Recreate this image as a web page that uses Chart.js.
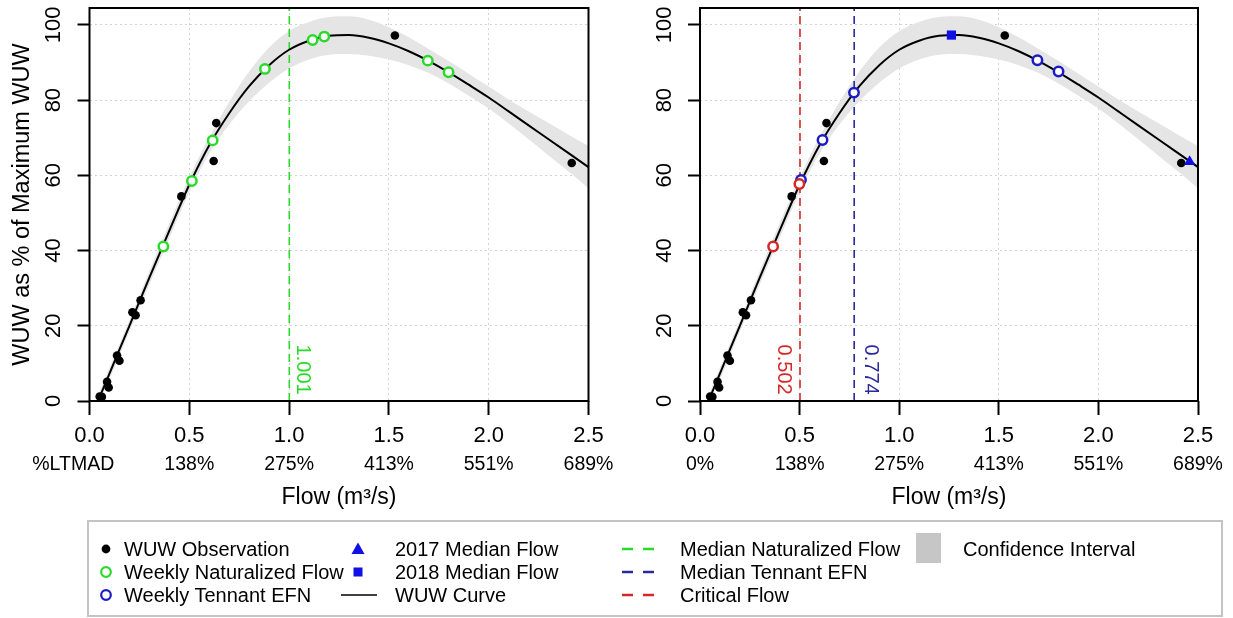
<!DOCTYPE html>
<html>
<head>
<meta charset="utf-8">
<script src="https://cdn.jsdelivr.net/npm/chart.js@4.4.1/dist/chart.umd.min.js"></script>
<style>
  body { margin: 0; background: #fff; width: 1233px; height: 618px; overflow: hidden; position: relative; }
  #leftBox { position: absolute; left: 0; top: 0; width: 615px; height: 515px; }
  #rightBox { position: absolute; left: 615px; top: 0; width: 618px; height: 515px; }
  #legend { position: absolute; left: 0; top: 0; }
</style>
</head>
<body>
<div id="leftBox"><canvas id="leftChart"></canvas></div>
<div id="rightBox"><canvas id="rightChart"></canvas></div>
<svg id="legend" width="1233" height="618"></svg>
<script>
// fitted WUW curve and its confidence band
const curveFlow = [0.045, 0.1, 0.2, 0.3, 0.4, 0.5, 0.6, 0.7, 0.8, 0.9, 1.0, 1.1, 1.2, 1.3, 1.4, 1.5, 1.6, 1.7, 1.8, 1.9, 2.0, 2.1, 2.2, 2.3, 2.4, 2.5];
const curveWuw  = [0.3, 7.3, 20.0, 32.8, 45.3, 57.5, 68.0, 76.5, 83.7, 89.3, 93.4, 95.8, 97.1, 97.3, 96.6, 95.1, 93.0, 90.4, 87.4, 84.1, 80.7, 77.0, 73.3, 69.6, 65.9, 62.2];
const ciUpper   = [1.8, 8.8, 21.5, 34.6, 47.3, 59.5, 70.2, 79.5, 87.6, 94.0, 98.4, 100.8, 102.1, 102.3, 101.4, 99.4, 96.7, 93.6, 90.4, 87.0, 83.6, 80.2, 77.0, 73.9, 70.8, 67.8];
const ciLower   = [0.0, 5.8, 18.5, 31.0, 43.3, 55.5, 65.8, 73.5, 79.7, 84.6, 88.4, 90.8, 92.1, 92.3, 91.8, 90.8, 89.3, 87.2, 84.4, 81.2, 77.8, 73.8, 69.6, 65.3, 61.0, 56.6];

// WUW observations (black dots, same on both panels)
const obsFlow = [0.051, 0.062, 0.088, 0.096, 0.138, 0.150, 0.215, 0.231, 0.256, 0.460, 0.622, 0.635, 1.530, 2.416];
const obsWuw  = [1.2, 1.1, 5.1, 3.6, 12.1, 10.7, 23.6, 22.8, 26.8, 54.4, 63.8, 73.9, 97.2, 63.3];

// weekly naturalized flow (green circles, left panel)
const natFlow = [0.370, 0.513, 0.617, 0.879, 1.118, 1.176, 1.695, 1.799];
const natWuw  = [41.1, 58.5, 69.3, 88.3, 96.0, 96.9, 90.5, 87.4];

// weekly Tennant EFN (blue circles) and critical flow weeks (red circles), right panel
const efnFlow  = [0.507, 0.615, 0.773, 1.694, 1.800];
const efnWuw   = [58.8, 69.4, 82.0, 90.6, 87.6];
const critFlow = [0.367, 0.499];
const critWuw  = [41.1, 57.7];

// yearly medians (right panel)
const flow2017 = [2.458];
const wuw2017  = [63.6];
const flow2018 = [1.262];
const wuw2018  = [97.3];

// reference flows
const medianNaturalizedFlow = 1.001;
const medianTennantEfn = 0.774;
const criticalFlow = 0.502;

// secondary axis labels (% of long-term mean annual discharge)
const leftPctLabels  = ['%LTMAD', '138%', '275%', '413%', '551%', '689%'];
const rightPctLabels = ['0%', '138%', '275%', '413%', '551%', '689%'];

const GREEN = '#2ada2a';
const BLUE = '#1c1cc4';
const NAVY = '#2a2a9c';
const RED = '#d42828';
const SOLID_BLUE = '#1010e6';
const FONT = '"Liberation Sans", Arial, Helvetica, sans-serif';

Chart.defaults.font.family = FONT;
Chart.defaults.color = '#000';

const pts = (xs, ys) => xs.map((x, i) => ({ x: x, y: ys[i] }));

const plotBox = {
  id: 'plotBox',
  afterDatasetsDraw(chart) {
    const { ctx, chartArea: a } = chart;
    ctx.save();
    ctx.strokeStyle = '#000';
    ctx.lineWidth = 2;
    ctx.strokeRect(a.left, a.top, a.right - a.left, a.bottom - a.top);
    ctx.restore();
  }
};

// dashed reference lines, drawn just after the confidence band
const refLines = {
  id: 'refLines',
  afterDatasetDraw(chart, args, opts) {
    if (chart.data.datasets[args.index].label !== 'Confidence Interval') return;
    const { ctx, chartArea: a, scales } = chart;
    (opts.lines || []).forEach(l => {
      const x = scales.x.getPixelForValue(l.value);
      ctx.save();
      ctx.strokeStyle = l.color;
      ctx.lineWidth = 1.6;
      ctx.setLineDash([8, 5]);
      ctx.beginPath();
      ctx.moveTo(x, a.bottom);
      ctx.lineTo(x, a.top);
      ctx.stroke();
      ctx.setLineDash([]);
      ctx.fillStyle = l.color;
      ctx.font = '20px ' + FONT;
      ctx.translate(x + l.dx, scales.y.getPixelForValue(opts.labelAt));
      ctx.rotate(Math.PI / 2);
      ctx.textAlign = 'left';
      ctx.textBaseline = 'middle';
      ctx.fillText(l.value.toFixed(3), 0, 0);
      ctx.restore();
    });
  }
};

function bandSets() {
  return [
    { type: 'line', label: 'Confidence Interval', data: pts(curveFlow, ciUpper), borderWidth: 0, borderColor: 'rgba(0,0,0,0)',
      pointRadius: 0, fill: '+1', backgroundColor: '#e5e5e5', cubicInterpolationMode: 'monotone', order: 20 },
    { type: 'line', label: 'CI lower', data: pts(curveFlow, ciLower), borderWidth: 0, borderColor: 'rgba(0,0,0,0)',
      pointRadius: 0, fill: false, cubicInterpolationMode: 'monotone', order: 21 },
    { type: 'line', label: 'WUW Curve', data: pts(curveFlow, curveWuw), borderColor: '#000', borderWidth: 2,
      pointRadius: 0, fill: false, cubicInterpolationMode: 'monotone', order: 10 }
  ];
}

function dotSet(label, xs, ys, style) {
  return Object.assign({ label: label, data: pts(xs, ys), pointStyle: 'circle', borderWidth: 0 }, style);
}

function openCircle(color, order) {
  return { pointRadius: 4.7, backgroundColor: '#fff', borderColor: color, borderWidth: 2.5, order: order };
}

function yAxis(width, withTitle) {
  return {
    min: 0, max: 104.5,
    ticks: { stepSize: 20, includeBounds: false, autoSkip: false, minRotation: 90, maxRotation: 90,
      crossAlign: 'center', padding: 5, font: { size: 22 }, color: '#000' },
    grid: { color: '#d3d3d3', lineWidth: 1, tickColor: '#000', tickLength: 12, tickWidth: 2 },
    border: { display: false, dash: [2, 3] },
    title: { display: withTitle, text: 'WUW as % of Maximum WUW', font: { size: 23.5 }, color: '#000', padding: { top: 8, bottom: 0 } },
    afterFit(s) { s.width = width; s.paddingTop = 0; s.paddingBottom = 0; }
  };
}

// firstShift: trailing blanks that push the first % label left of its tick, as in the original
function xAxes(pctLabels, firstShift) {
  return {
    x: {
      type: 'linear', position: 'bottom', min: 0, max: 2.5, weight: 0,
      ticks: { stepSize: 0.5, autoSkip: false, maxRotation: 0, padding: 8, font: { size: 22 }, color: '#000',
        callback: v => v.toFixed(1) },
      grid: { color: '#d3d3d3', lineWidth: 1, tickColor: '#000', tickLength: 14, tickWidth: 2 },
      border: { display: false, dash: [2, 3] },
      afterFit(s) { s.height = 48; s.paddingLeft = 0; s.paddingRight = 0; }
    },
    x2: {
      type: 'linear', position: 'bottom', min: 0, max: 2.5, weight: 1,
      ticks: { stepSize: 0.5, autoSkip: false, maxRotation: 0, padding: 4, font: { size: 19.5 }, color: '#000',
        callback: (v, i) => i === 0 ? pctLabels[i] + '\u00a0'.repeat(firstShift) : pctLabels[i] },
      grid: { display: false, drawTicks: false },
      border: { display: false },
      title: { display: true, text: 'Flow (m³/s)', font: { size: 23 }, color: '#000', padding: { top: 0, bottom: 4 } },
      afterFit(s) { s.height = 66; s.paddingLeft = 0; s.paddingRight = 0; }
    }
  };
}

function buildChart(id, cfg) {
  const scales = xAxes(cfg.pctLabels, cfg.firstShift);
  scales.y = yAxis(cfg.yWidth, cfg.yTitle);
  return new Chart(document.getElementById(id), {
    type: 'scatter',
    data: { datasets: cfg.datasets },
    options: {
      responsive: true,
      maintainAspectRatio: false,
      animation: false,
      events: [],
      layout: { padding: { left: 0, top: 8, right: cfg.padRight, bottom: 0 } },
      plugins: {
        legend: { display: false },
        tooltip: { enabled: false },
        refLines: { lines: cfg.lines, labelAt: 15 }
      },
      scales: scales
    },
    plugins: [refLines, plotBox]
  });
}

buildChart('leftChart', {
  pctLabels: leftPctLabels,
  firstShift: 6,
  yWidth: 89.5,
  yTitle: true,
  padRight: 26.5,
  lines: [{ value: medianNaturalizedFlow, color: GREEN, dx: 13 }],
  datasets: [
    dotSet('Weekly Naturalized Flow', natFlow, natWuw, openCircle(GREEN, 1)),
    dotSet('WUW Observation', obsFlow, obsWuw, { pointRadius: 4.3, backgroundColor: '#000', order: 5 })
  ].concat(bandSets())
});

buildChart('rightChart', {
  pctLabels: rightPctLabels,
  firstShift: 0,
  yWidth: 85,
  yTitle: false,
  padRight: 35,
  lines: [
    { value: criticalFlow, color: RED, dx: -16 },
    { value: medianTennantEfn, color: NAVY, dx: 16 }
  ],
  datasets: [
    dotSet('Critical Flow', critFlow, critWuw, openCircle(RED, 1)),
    dotSet('2017 Median Flow', flow2017, wuw2017, { pointStyle: 'triangle', pointRadius: 6.5, backgroundColor: SOLID_BLUE, order: 1 }),
    dotSet('2018 Median Flow', flow2018, wuw2018, { pointStyle: 'rect', pointRadius: 6.5, backgroundColor: SOLID_BLUE, order: 1 }),
    dotSet('Weekly Tennant EFN', efnFlow, efnWuw, openCircle(BLUE, 2)),
    dotSet('WUW Observation', obsFlow, obsWuw, { pointRadius: 4.3, backgroundColor: '#000', order: 5 })
  ].concat(bandSets())
});

// legend box (column-major, like the original)
const legendItems = [
  { col: 0, row: 0, kind: 'dot', color: '#000', text: 'WUW Observation' },
  { col: 0, row: 1, kind: 'ring', color: GREEN, text: 'Weekly Naturalized Flow' },
  { col: 0, row: 2, kind: 'ring', color: BLUE, text: 'Weekly Tennant EFN' },
  { col: 1, row: 0, kind: 'triangle', color: SOLID_BLUE, text: '2017 Median Flow' },
  { col: 1, row: 1, kind: 'square', color: SOLID_BLUE, text: '2018 Median Flow' },
  { col: 1, row: 2, kind: 'line', color: '#000', text: 'WUW Curve' },
  { col: 2, row: 0, kind: 'dash', color: GREEN, text: 'Median Naturalized Flow' },
  { col: 2, row: 1, kind: 'dash', color: NAVY, text: 'Median Tennant EFN' },
  { col: 2, row: 2, kind: 'dash', color: RED, text: 'Critical Flow' },
  { col: 3, row: 0, kind: 'fillbox', color: '#c6c6c6', text: 'Confidence Interval' }
];
const legendCols = [{ sym: 106, text: 124 }, { sym: 358, text: 395 }, { sym: 638, text: 680 }, { sym: 928, text: 963 }];
const legendRows = [549, 572, 595];

const svg = document.getElementById('legend');
const NS = 'http://www.w3.org/2000/svg';
function el(name, attrs, txt) {
  const e = document.createElementNS(NS, name);
  for (const k in attrs) e.setAttribute(k, attrs[k]);
  if (txt) e.textContent = txt;
  svg.appendChild(e);
  return e;
}
el('rect', { x: 88, y: 521, width: 1134, height: 95, fill: 'none', stroke: '#c4c4c4', 'stroke-width': 2 });
legendItems.forEach(it => {
  const cx = legendCols[it.col].sym;
  const cy = legendRows[it.row];
  if (it.kind === 'dot') el('circle', { cx: cx, cy: cy, r: 4.4, fill: it.color });
  if (it.kind === 'ring') el('circle', { cx: cx, cy: cy, r: 4.8, fill: 'none', stroke: it.color, 'stroke-width': 2.2 });
  if (it.kind === 'triangle') el('polygon', { points: `${cx},${cy - 6.5} ${cx - 6.5},${cy + 5} ${cx + 6.5},${cy + 5}`, fill: it.color });
  if (it.kind === 'square') el('rect', { x: cx - 4.5, y: cy - 4.5, width: 9, height: 9, fill: it.color });
  if (it.kind === 'line') el('line', { x1: cx - 17, y1: cy, x2: cx + 19, y2: cy, stroke: it.color, 'stroke-width': 1.6 });
  if (it.kind === 'dash') el('line', { x1: cx - 16, y1: cy, x2: cx + 16, y2: cy, stroke: it.color, 'stroke-width': 2.4, 'stroke-dasharray': '11 10' });
  if (it.kind === 'fillbox') el('rect', { x: cx - 12, y: cy - 16, width: 25, height: 30, fill: it.color });
  el('text', { x: legendCols[it.col].text, y: cy, 'font-family': FONT, 'font-size': 20, fill: '#000',
    'dominant-baseline': 'central' }, it.text);
});
</script>
</body>
</html>
